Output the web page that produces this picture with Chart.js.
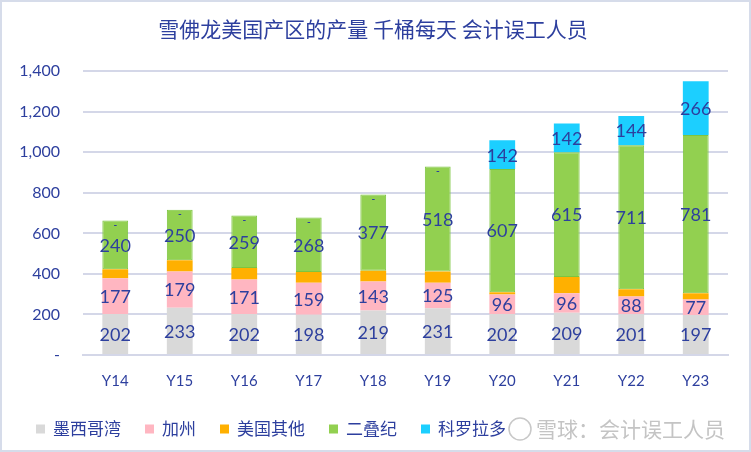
<!DOCTYPE html>
<html>
<head>
<meta charset="utf-8">
<script src="https://cdn.jsdelivr.net/npm/chart.js@4.4.1/dist/chart.umd.min.js"></script>
<style>
  html, body { margin: 0; padding: 0; background: #fff; }
  #wrap { position: relative; width: 747px; height: 448px; border: 2px solid #d6dcea; }
</style>
</head>
<body>
<div id="wrap"><canvas id="chart" width="747" height="448"></canvas></div>
<script>
const years = ["Y14", "Y15", "Y16", "Y17", "Y18", "Y19", "Y20", "Y21", "Y22", "Y23"];
//production by region, thousand barrels per day
const gulf = [202, 233, 202, 198, 219, 231, 202, 209, 201, 197];
const california = [177, 179, 171, 159, 143, 125, 96, 96, 88, 77];
const otherUS = [44, 55, 56, 53, 53, 56, 12, 80, 35, 30];
const permian = [240, 250, 259, 268, 377, 518, 607, 615, 711, 781];
const colorado = [0, 0, 0, 0, 0, 0, 142, 142, 144, 266];
const yTicks = [0, 200, 400, 600, 800, 1000, 1200, 1400];

const blue = "#2d3f9e";
const cjk = "'Noto Sans CJK SC', 'Noto Sans', sans-serif";
const num = "Lato, 'Open Sans', sans-serif";

//draw values inside the segments (not for 美国其他)
const labelPlugin = {
  id: "segLabels",
  afterDatasetsDraw(chart) {
    const ctx = chart.ctx;
    ctx.save();
    ctx.fillStyle = blue;
    ctx.textAlign = "center";
    ctx.textBaseline = "middle";
    chart.data.datasets.forEach((ds, i) => {
      if (!ds.showLabels) return;
      chart.getDatasetMeta(i).data.forEach((bar, j) => {
        const v = ds.data[j];
        if (v === 0) {
          ctx.font = "bold 10px " + num;
          ctx.fillText("-", bar.x, bar.y + 4);
        } else {
          ctx.font = "18px " + num;
          ctx.fillText(v, bar.x, (bar.y + bar.base) / 2 + 1);
        }
      });
    });
    ctx.restore();
  }
};

//legend along the bottom + watermark in the corner
const legendPlugin = {
  id: "bottomLegend",
  afterDraw(chart) {
    const ctx = chart.ctx;
    const y = 427;
    ctx.save();
    ctx.font = "17px " + cjk;
    ctx.textBaseline = "middle";
    let x = 34;
    chart.data.datasets.forEach((ds) => {
      ctx.fillStyle = ds.backgroundColor;
      ctx.fillRect(x, y - 4.5, 9, 9);
      ctx.fillStyle = blue;
      ctx.fillText(ds.label, x + 17, y);
      x += 17 + ctx.measureText(ds.label).width + 24;
    });
    ctx.strokeStyle = "#c8c8c8";
    ctx.lineWidth = 1.5;
    ctx.beginPath();
    ctx.arc(518, 427, 11, 0, Math.PI * 2);
    ctx.stroke();
    ctx.fillStyle = "#c4c4c4";
    ctx.font = "21px " + cjk;
    ctx.fillText("雪球：会计误工人员", 534, 427);
    ctx.restore();
  }
};

new Chart(document.getElementById("chart"), {
  type: "bar",
  plugins: [labelPlugin, legendPlugin],
  data: {
    labels: years,
    datasets: [
      { label: "墨西哥湾", data: gulf, backgroundColor: "#d9d9d9", showLabels: true },
      { label: "加州", data: california, backgroundColor: "#ffb6c1", showLabels: true },
      { label: "美国其他", data: otherUS, backgroundColor: "#ffb000", showLabels: false },
      { label: "二叠纪", data: permian, backgroundColor: "#92d050", borderColor: "#7cc540", borderWidth: 1, borderSkipped: false, showLabels: true },
      { label: "科罗拉多", data: colorado, backgroundColor: "#1ccfff", showLabels: true },
    ],
  },
  options: {
    responsive: false,
    animation: false,
    layout: { padding: { left: 16, right: 21, top: 0, bottom: 43 } },
    datasets: { bar: { barPercentage: 0.4, categoryPercentage: 1 } },
    scales: {
      x: {
        stacked: true,
        grid: { display: false, drawTicks: false },
        border: { color: "#d4d7e8", width: 2 },
        ticks: { color: blue, font: { size: 15, family: num }, padding: 17 },
      },
      y: {
        stacked: true,
        min: 0,
        max: 1400,
        afterBuildTicks: (axis) => { axis.ticks = yTicks.map(v => ({ value: v })); },
        afterFit: (axis) => { axis.width = 65; },
        grid: { color: "#d4d7e8", lineWidth: 2, drawTicks: false },
        border: { display: false },
        ticks: {
          color: blue,
          font: { size: 16, family: num },
          padding: 23,
          callback: (v) => v === 0 ? "-" : v.toLocaleString("en-US"),
        },
      },
    },
    plugins: {
      tooltip: { enabled: false },
      legend: { display: false },
      title: {
        display: true,
        text: "雪佛龙美国产区的产量 千桶每天 会计误工人员",
        color: blue,
        font: { size: 21, family: cjk, weight: "normal" },
        padding: { top: 14, bottom: 30 },
      },
    },
  },
});
</script>
</body>
</html>
